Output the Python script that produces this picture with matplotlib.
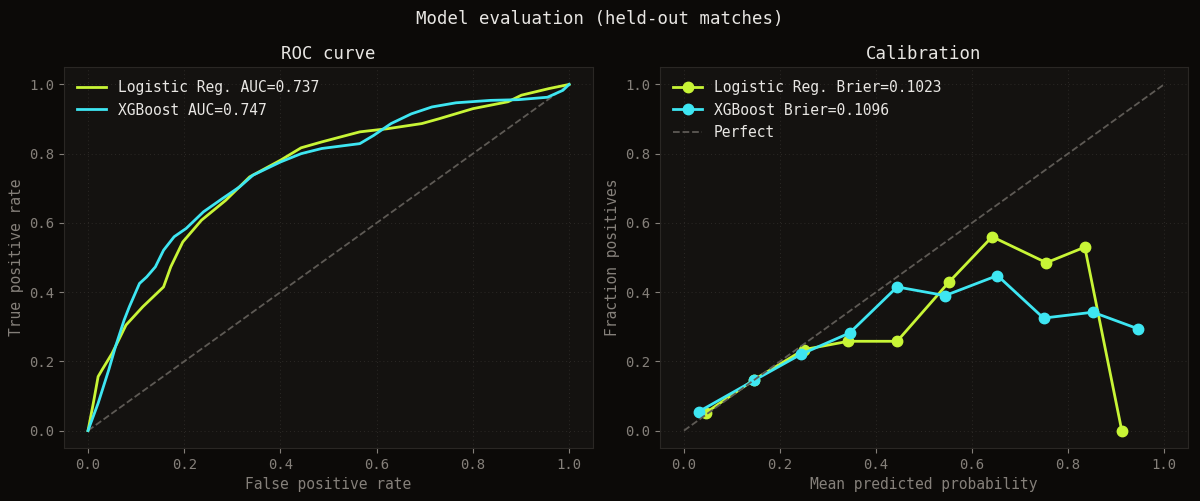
import matplotlib
matplotlib.use("Agg")
import matplotlib.pyplot as plt

# ROC data
lr_fpr = [0.0, 0.011, 0.021, 0.029, 0.05, 0.079, 0.114, 0.157, 0.172, 0.197, 0.236, 0.286, 0.336,
          0.40, 0.443, 0.486, 0.565, 0.622, 0.694, 0.73, 0.80, 0.873, 0.901, 0.958, 1.0]
lr_tpr = [0.0, 0.079, 0.156, 0.175, 0.223, 0.305, 0.358, 0.415, 0.473, 0.545, 0.608, 0.665, 0.733,
          0.781, 0.817, 0.834, 0.863, 0.872, 0.887, 0.901, 0.93, 0.95, 0.969, 0.988, 1.0]
xgb_fpr = [0.0, 0.021, 0.043, 0.057, 0.075, 0.086, 0.107, 0.122, 0.14, 0.157, 0.179, 0.204, 0.24,
           0.279, 0.315, 0.343, 0.40, 0.443, 0.486, 0.565, 0.594, 0.63, 0.672, 0.715, 0.765,
           0.837, 0.894, 0.955, 0.987, 1.0]
xgb_tpr = [0.0, 0.079, 0.175, 0.242, 0.319, 0.358, 0.425, 0.444, 0.473, 0.521, 0.56, 0.584, 0.632,
           0.67, 0.704, 0.738, 0.776, 0.80, 0.815, 0.829, 0.853, 0.887, 0.915, 0.935, 0.947,
           0.954, 0.956, 0.963, 0.983, 1.0]

# Calibration data
lr_pred = [0.045, 0.146, 0.25, 0.342, 0.444, 0.552, 0.642, 0.755, 0.835, 0.912]
lr_frac = [0.051, 0.147, 0.234, 0.258, 0.258, 0.429, 0.56, 0.485, 0.53, 0.0]
xgb_pred = [0.031, 0.146, 0.243, 0.345, 0.444, 0.544, 0.653, 0.749, 0.852, 0.946]
xgb_frac = [0.055, 0.145, 0.22, 0.282, 0.415, 0.39, 0.448, 0.325, 0.342, 0.294]

lr_label_roc = "Logistic Reg. AUC=0.737"
xgb_label_roc = "XGBoost AUC=0.747"
lr_label_cal = "Logistic Reg. Brier=0.1023"
xgb_label_cal = "XGBoost Brier=0.1096"

C_LR = "#c8f536"
C_XGB = "#3ee6f2"
FIG_BG = "#0c0a08"
AX_BG = "#141210"
TXT = "#e8e6e3"
MUTED = "#85807a"
SPINE = "#2a2724"
DIAG = "#5e5a55"

plt.rcParams['font.family'] = ['DejaVu Sans Mono']

fig = plt.figure(figsize=(12, 5.01), dpi=100, facecolor=FIG_BG)
ax1 = fig.add_axes([0.0533, 0.106, 0.441, 0.760])
ax2 = fig.add_axes([0.550, 0.106, 0.440, 0.760])

for ax in (ax1, ax2):
    ax.set_facecolor(AX_BG)
    for s in ax.spines.values():
        s.set_color(SPINE)
    ax.tick_params(colors=MUTED, labelsize=10, length=3.5)
    ax.grid(True, color="#2c2926", linestyle=(0, (1, 3)), linewidth=0.7)
    ax.set_axisbelow(True)
    ax.set_xlim(-0.05, 1.05)
    ax.set_ylim(-0.05, 1.05)
    ax.set_xticks([0, 0.2, 0.4, 0.6, 0.8, 1.0])
    ax.set_yticks([0, 0.2, 0.4, 0.6, 0.8, 1.0])

ax1.plot([0, 1], [0, 1], linestyle="--", color=DIAG, linewidth=1.3)
ax1.plot(lr_fpr, lr_tpr, color=C_LR, linewidth=2, label=lr_label_roc)
ax1.plot(xgb_fpr, xgb_tpr, color=C_XGB, linewidth=2, label=xgb_label_roc)
ax1.set_title("ROC curve", color=TXT, fontsize=12.5, pad=6)
ax1.set_xlabel("False positive rate", color=MUTED, fontsize=10.5)
ax1.set_ylabel("True positive rate", color=MUTED, fontsize=10.5)
ax1.legend(loc="upper left", frameon=False, fontsize=10.5, labelcolor=TXT)

ax2.plot(lr_pred, lr_frac, color=C_LR, linewidth=2, marker="o", markersize=7.5, label=lr_label_cal)
ax2.plot(xgb_pred, xgb_frac, color=C_XGB, linewidth=2, marker="o", markersize=7.5, label=xgb_label_cal)
ax2.plot([0, 1], [0, 1], linestyle="--", color=DIAG, linewidth=1.3, label="Perfect")
ax2.set_title("Calibration", color=TXT, fontsize=12.5, pad=6)
ax2.set_xlabel("Mean predicted probability", color=MUTED, fontsize=10.5)
ax2.set_ylabel("Fraction positives", color=MUTED, fontsize=10.5)
ax2.legend(loc="upper left", frameon=False, fontsize=10.5, labelcolor=TXT)

fig.suptitle("Model evaluation (held-out matches)", color=TXT, fontsize=12.5, y=0.98)

fig.savefig("out.png", dpi=100, facecolor=FIG_BG)
